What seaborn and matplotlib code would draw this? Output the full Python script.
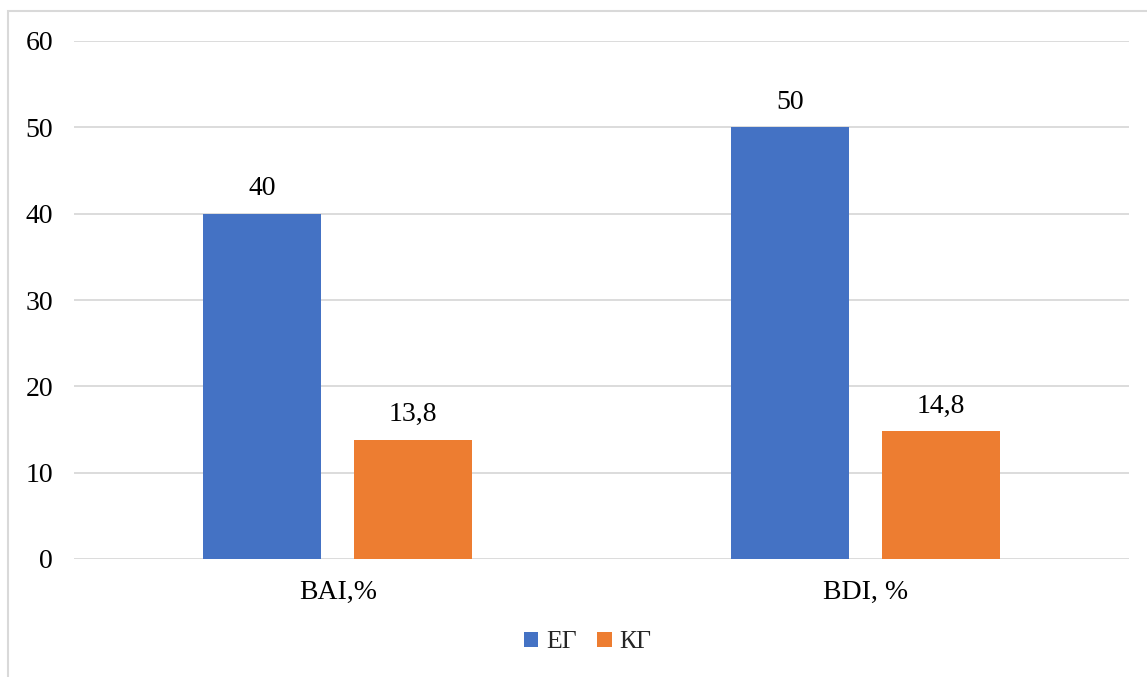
import pandas as pd
import seaborn as sns
import matplotlib.pyplot as plt
from matplotlib.patches import Rectangle

# data
categories = ["BAI,%", "BDI, %"]
groups = ["ЕГ", "КГ"]
eg_values = [40, 50]
kg_values = [13.8, 14.8]
y_ticks = [0, 10, 20, 30, 40, 50, 60]

colors = {"ЕГ": "#4472C4", "КГ": "#ED7D31"}

df = pd.DataFrame({
    "category": categories * 2,
    "group": [groups[0]] * len(categories) + [groups[1]] * len(categories),
    "value": eg_values + kg_values,
})

sns.set_theme(style="white")
plt.rcParams["font.family"] = ["Liberation Serif", "DejaVu Serif"]

fig = plt.figure(figsize=(11.47, 6.77), dpi=100)
ax = fig.add_axes([74 / 1147, 118 / 677, 1055 / 1147, 518 / 677])

sns.barplot(data=df, x="category", y="value", hue="group", order=categories,
            hue_order=groups, palette=colors, width=0.572, gap=0.217,
            saturation=1, linewidth=0, ax=ax, legend=True)

ax.set_ylim(0, 60)
ax.set_yticks(y_ticks)
ax.yaxis.grid(True, color="#D9D9D9", linewidth=1.3)
ax.set_axisbelow(True)
for s in ax.spines.values():
    s.set_visible(False)
ax.tick_params(axis="both", length=0, labelsize=20, colors="black")
ax.tick_params(axis="y", pad=15)
ax.tick_params(axis="x", pad=15)
ax.set_xlabel("")
ax.set_ylabel("")

for cont in ax.containers:
    labels = [f"{v:g}".replace(".", ",") for v in cont.datavalues]
    ax.bar_label(cont, labels=labels, padding=9, fontsize=20, color="black")

ax.legend(loc="upper center", bbox_to_anchor=(0.487, -0.095), ncol=2,
          frameon=False, fontsize=18.5, handlelength=0.55, handleheight=0.55,
          handletextpad=0.3, columnspacing=0.8)

# chart border (light grey frame)
fig.patches.append(Rectangle((8 / 1147, -0.1), 1.2, (677 - 11) / 677 + 0.1,
                             transform=fig.transFigure, fill=False,
                             edgecolor="#D9D9D9", linewidth=1.5))

fig.savefig("out.png", dpi=100)
